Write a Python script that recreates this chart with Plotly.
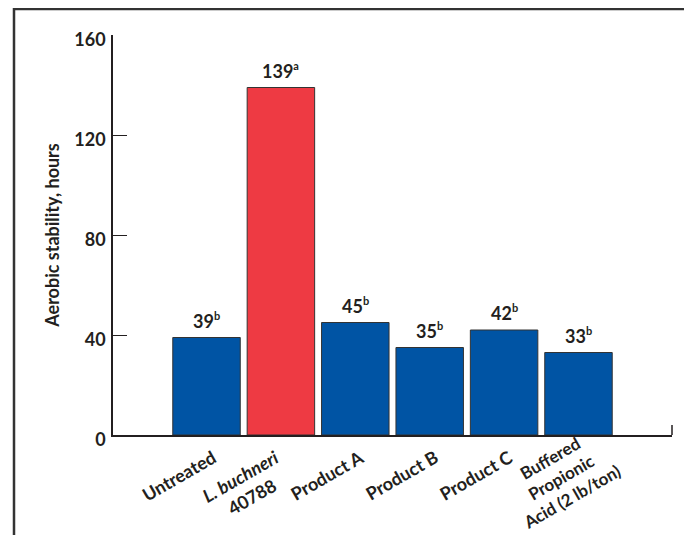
import plotly.graph_objects as go

categories = ["Untreated", "<i>L. buchneri</i><br>40788", "Product A", "Product B",
              "Product C", "Buffered<br>Propionic<br>Acid (2 lb/ton)"]
values = [39, 139, 45, 35, 42, 33]
letters = ["b", "a", "b", "b", "b", "b"]
bar_colors = ["#0054a4", "#ee3a43", "#0054a4", "#0054a4", "#0054a4", "#0054a4"]
y_ticks = [0, 40, 80, 120, 160]

INK = "#231f20"
FONT = "Lato"

fig = go.Figure()
fig.add_trace(go.Bar(
    x=categories, y=values,
    marker=dict(color=bar_colors, line=dict(color="#333333", width=1)),
    width=0.907, hoverinfo="skip",
))

# value labels
for c, v, l in zip(categories, values, letters):
    fig.add_annotation(x=c, y=v, xref="x", yref="y",
                       text=f"{v}<sup><span style='font-size:11px'>{l}</span></sup>",
                       showarrow=False, yanchor="bottom", yshift=4,
                       font=dict(family=FONT, size=18, color=INK, weight="bold"))

# category labels (rotated, centred lines); the three-line label is set a little tighter
label_style = {5: (48, 16, 17)}
for i, c in enumerate(categories):
    xs, ys, fs = label_style.get(i, (15, -8, 18))
    fig.add_annotation(x=c, y=0, xref="x", yref="paper", text=c, showarrow=False,
                       textangle=-30, xanchor="right", yanchor="top", align="center",
                       xshift=xs, yshift=ys,
                       font=dict(family=FONT, size=fs, color=INK, weight="bold"))

# outer frame (top and left edges visible) and right-end tick of the x axis
fig.add_shape(type="rect", xref="paper", yref="paper", x0=-0.1771, x1=1.3, y0=-0.6, y1=1.065,
              line=dict(color="#333333", width=2.5), fillcolor="rgba(0,0,0,0)")
fig.add_shape(type="line", xref="paper", yref="paper", x0=1, x1=1, y0=0, y1=0.025,
              line=dict(color=INK, width=1.5))

# page body has an 8px margin, so the figure is 8px smaller than the window
fig.update_layout(
    width=684, height=527,
    margin=dict(l=105, r=20, t=27, b=100),
    paper_bgcolor="white", plot_bgcolor="white",
    showlegend=False,
    font=dict(family=FONT, color=INK),
    xaxis=dict(range=[-1.257, 6.257], showticklabels=False, ticks="", showgrid=False,
               zeroline=False, showline=True, linecolor=INK, linewidth=1.5, fixedrange=True),
    yaxis=dict(range=[0, 160], tickvals=y_ticks, ticks="inside", ticklen=14, tickwidth=1.3,
               tickcolor=INK, showgrid=False, zeroline=False, showline=True, linecolor=INK,
               linewidth=1.5, ticklabelstandoff=2, ticklabelshift=5,
               tickfont=dict(family=FONT, size=18, color=INK, weight="bold"),
               title=dict(text="Aerobic stability, hours", standoff=10,
                          font=dict(family=FONT, size=18, color=INK, weight="bold"))),
)

fig.write_html("out.html")
